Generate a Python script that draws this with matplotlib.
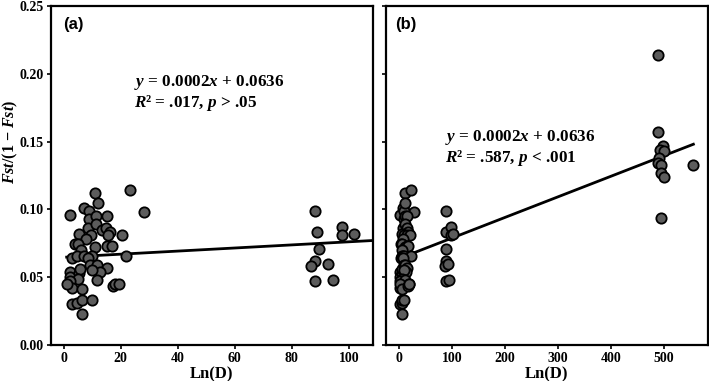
import numpy as np
import matplotlib
matplotlib.use("Agg")
import matplotlib.pyplot as plt

plt.rcParams['font.family'] = 'Liberation Serif'
plt.rcParams['font.weight'] = 'bold'
plt.rcParams['mathtext.fontset'] = 'custom'
plt.rcParams['mathtext.it'] = 'Liberation Serif:style=italic:weight=bold'
plt.rcParams['mathtext.rm'] = 'Liberation Serif:weight=bold'
plt.rcParams['mathtext.bf'] = 'Liberation Serif:weight=bold'

# near-distance populations (shared by both panels)
near_x = [2, 7.1, 9, 11, 12, 23.2, 28, 8.8, 11.2, 15.1, 8.5, 11.4, 13.4, 14.9, 16.3,
          5.5, 9.4, 15.4, 20.4, 7.8, 3.9, 5.0, 10.9, 15.1, 16.8, 6.2, 2.9, 4.8, 7, 10,
          21.8, 8.5, 2.2, 2, 5.3, 5.7, 9.2, 11.7, 15.1, 12.8, 9.9, 5, 2.3, 11.5, 2.8,
          1.1, 6.4, 17.4, 18, 19.4, 2.8, 4.8, 6.3, 9.9, 6.5]
near_y = [0.096, 0.101, 0.099, 0.112, 0.105, 0.114, 0.098, 0.093, 0.095, 0.0955, 0.086,
          0.089, 0.085, 0.086, 0.083, 0.082, 0.081, 0.081, 0.081, 0.078, 0.0746, 0.0746,
          0.072, 0.073, 0.073, 0.070, 0.064, 0.066, 0.066, 0.066, 0.066, 0.064, 0.054,
          0.050, 0.053, 0.056, 0.059, 0.059, 0.057, 0.054, 0.055, 0.049, 0.047, 0.048,
          0.042, 0.045, 0.041, 0.0435, 0.045, 0.045, 0.0306, 0.031, 0.033, 0.033, 0.0225]

mid_x = [88, 88.9, 89.4, 88.3, 86.8, 88.2, 92.8, 94.3, 97.7, 97.7, 101.7]
mid_y = [0.099, 0.083, 0.0705, 0.062, 0.058, 0.047, 0.060, 0.048, 0.087, 0.081, 0.082]

far_x = [488.7, 488.7, 498, 492, 500, 490, 487.5, 493.7, 493.7, 500, 493.7, 554.7]
far_y = [0.214, 0.157, 0.147, 0.144, 0.143, 0.138, 0.1345, 0.133, 0.127, 0.124, 0.094, 0.133]

# regression lines as drawn
line_a = (0.000114, 0.0647)
line_b = (0.000152, 0.0637)

xa = np.array(near_x + mid_x)
ya = np.array(near_y + mid_y)
xb = np.array(near_x + mid_x + far_x)
yb = np.array(near_y + mid_y + far_y)

fig = plt.figure(figsize=(7.09, 3.81), dpi=100)
ax1 = fig.add_axes([50.7/709, 36/381, 322.6/709, 339/381])
ax2 = fig.add_axes([385.7/709, 36/381, 322/709, 339/381])

mk = dict(s=55, c='#5c5c5c', edgecolors='black', linewidths=1.3, zorder=3)

ax1.scatter(xa, ya, **mk)
lx = np.array([1, 108])
ax1.plot(lx, line_a[0]*lx + line_a[1], color='black', lw=2, zorder=2)
ax1.set_xlim(-4.6, 108.6)
ax1.set_ylim(0, 0.25)
ax1.set_xticks([0, 20, 40, 60, 80, 100])
ax1.set_yticks([0, 0.05, 0.10, 0.15, 0.20, 0.25])
ax1.yaxis.set_major_formatter(matplotlib.ticker.FormatStrFormatter('%.2f'))
ax1.set_xlabel('Ln(D)', fontsize=12, fontweight='bold', labelpad=1)
ax1.set_ylabel('$Fst$/(1 − $Fst$)', fontsize=11.5, fontweight='bold')
ax1.yaxis.set_label_coords(-0.095, 0.6)
ax1.text(0.037, 0.945, '(a)', transform=ax1.transAxes, fontsize=12, fontweight='bold',
         family='Liberation Sans', va='center')
ax1.text(0.258, 0.775, '$y$ = 0.0002$x$ + 0.0636', transform=ax1.transAxes,
         fontsize=12.3, va='center')
ax1.text(0.258, 0.715, '$R$² = .017, $p$ > .05', transform=ax1.transAxes,
         fontsize=12.3, va='center')

ax2.scatter(xb, yb, **mk)
lx = np.array([10, 555])
ax2.plot(lx, line_b[0]*lx + line_b[1], color='black', lw=2, zorder=2)
ax2.set_xlim(-25, 582)
ax2.set_ylim(0, 0.25)
ax2.set_xticks([0, 100, 200, 300, 400, 500])
ax2.set_yticks([0, 0.05, 0.10, 0.15, 0.20, 0.25])
ax2.set_yticklabels([])
ax2.set_xlabel('Ln(D)', fontsize=12, fontweight='bold', labelpad=1)
ax2.text(0.028, 0.945, '(b)', transform=ax2.transAxes, fontsize=12, fontweight='bold',
         family='Liberation Sans', va='center')
ax2.text(0.185, 0.612, '$y$ = 0.0002$x$ + 0.0636', transform=ax2.transAxes,
         fontsize=12.3, va='center')
ax2.text(0.185, 0.552, '$R$² = .587, $p$ < .001', transform=ax2.transAxes,
         fontsize=12.3, va='center')

for ax in (ax1, ax2):
    for sp in ax.spines.values():
        sp.set_linewidth(1.6)
    ax.tick_params(direction='out', length=3, width=1.2, labelsize=10, pad=2)
    for lab in ax.get_xticklabels() + ax.get_yticklabels():
        lab.set_fontweight('bold')

fig.savefig('out.png', dpi=100)
